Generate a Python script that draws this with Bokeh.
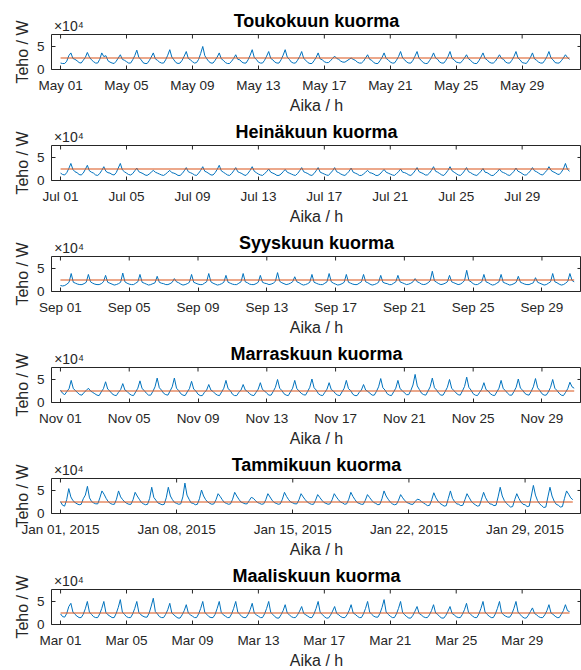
import numpy as np
from bokeh.plotting import figure
from bokeh.layouts import column
from bokeh.models import FixedTicker, LinearAxis, Range1d
from bokeh.embed import file_html
from bokeh.resources import INLINE

# ---------------- data (load in kW, one value every 3 hours) ----------------
SAMPLE_HOURS = 3
REFERENCE_LEVEL_KW = 25

may_kw = [
    14, 13, 13, 18, 30, 36, 24, 22,  19, 15, 14, 20, 26, 37, 27, 21,
    17, 14, 14, 22, 36, 28, 30, 19,  16, 14, 13, 18, 25, 32, 22, 20,
    17, 14, 14, 21, 30, 42, 26, 22,  15, 13, 13, 19, 27, 36, 23, 20,
    16, 14, 14, 21, 31, 43, 27, 21,  15, 13, 14, 20, 29, 39, 24, 21,
    17, 14, 15, 22, 35, 50, 30, 23,  17, 14, 14, 20, 27, 36, 23, 20,
    15, 13, 13, 18, 24, 32, 22, 21,  16, 14, 14, 21, 31, 43, 26, 22,
    16, 14, 14, 20, 29, 39, 24, 21,  16, 14, 14, 21, 31, 43, 27, 22,
    16, 14, 14, 20, 28, 39, 24, 20,  15, 13, 13, 19, 26, 36, 23, 21,
    17, 15, 15, 19, 24, 29, 24, 22,  18, 16, 16, 19, 22, 25, 22, 20,
    16, 14, 14, 18, 25, 32, 22, 20,  15, 13, 13, 19, 26, 36, 24, 21,
    16, 14, 14, 20, 28, 39, 25, 21,  16, 14, 14, 20, 29, 39, 24, 20,
    15, 13, 13, 19, 26, 36, 25, 22,  16, 14, 14, 20, 28, 39, 24, 21,
    16, 15, 14, 19, 25, 32, 23, 20,  15, 13, 13, 19, 27, 36, 24, 21,
    16, 14, 14, 18, 25, 32, 24, 22,  16, 14, 14, 20, 28, 39, 25, 21,
    15, 14, 13, 19, 26, 36, 23, 20,  16, 14, 14, 20, 28, 39, 25, 21,
    15, 14, 14, 19, 25, 32, 26, 22,
]

jul_kw = [
    16, 13, 12, 17, 26, 37, 24, 19,  17, 13, 12, 16, 24, 33, 21, 18,
    16, 12, 11, 15, 22, 30, 20, 17,  16, 13, 12, 17, 27, 37, 23, 19,
    16, 13, 12, 15, 21, 27, 19, 17,  15, 12, 11, 14, 18, 22, 18, 16,
    14, 12, 11, 14, 18, 22, 17, 16,  14, 11, 11, 15, 21, 28, 19, 17,
    15, 12, 11, 16, 22, 30, 20, 18,  15, 12, 12, 17, 24, 33, 21, 18,
    15, 12, 11, 15, 21, 28, 19, 17,  15, 12, 11, 16, 22, 30, 20, 17,
    14, 12, 11, 15, 19, 25, 18, 16,  14, 11, 11, 14, 19, 24, 18, 16,
    14, 12, 11, 15, 21, 28, 19, 17,  15, 12, 11, 15, 21, 28, 18, 16,
    14, 12, 11, 16, 21, 28, 19, 17,  14, 12, 11, 15, 20, 27, 18, 16,
    14, 11, 11, 14, 18, 22, 17, 16,  14, 11, 11, 14, 19, 24, 18, 16,
    14, 12, 11, 15, 19, 25, 18, 17,  15, 12, 11, 15, 21, 28, 19, 17,
    15, 12, 12, 16, 22, 30, 20, 18,  15, 12, 11, 16, 22, 30, 21, 18,
    15, 12, 11, 15, 21, 28, 19, 17,  14, 12, 11, 15, 20, 26, 18, 17,
    14, 11, 11, 15, 19, 25, 19, 17,  15, 12, 11, 15, 20, 27, 20, 18,
    15, 12, 12, 16, 21, 28, 21, 19,  16, 13, 12, 17, 22, 30, 22, 19,
    17, 14, 13, 18, 25, 37, 24, 20,
]

sep_kw = [
    13, 12, 13, 16, 20, 39, 20, 18,  16, 15, 15, 17, 20, 37, 21, 18,
    16, 15, 15, 17, 21, 35, 20, 18,  16, 14, 15, 17, 20, 40, 21, 18,
    16, 15, 15, 18, 21, 37, 20, 18,  16, 14, 15, 17, 19, 33, 20, 18,
    17, 15, 15, 17, 20, 28, 21, 19,  16, 14, 15, 17, 20, 37, 20, 18,
    16, 15, 15, 18, 21, 39, 21, 18,  16, 14, 15, 17, 20, 35, 20, 18,
    16, 15, 15, 18, 21, 39, 21, 19,  16, 15, 15, 17, 20, 35, 20, 18,
    17, 15, 16, 18, 22, 41, 22, 19,  17, 15, 16, 18, 21, 32, 21, 19,
    16, 14, 15, 17, 20, 37, 20, 18,  16, 15, 15, 18, 21, 39, 21, 18,
    16, 14, 15, 17, 20, 37, 20, 18,  16, 15, 15, 18, 21, 37, 21, 19,
    16, 14, 15, 17, 20, 35, 20, 18,  17, 15, 15, 18, 21, 35, 21, 19,
    17, 15, 16, 18, 21, 28, 21, 19,  16, 15, 16, 19, 23, 44, 23, 20,
    17, 15, 16, 18, 21, 35, 21, 19,  17, 15, 16, 19, 24, 46, 24, 21,
    17, 15, 15, 18, 21, 37, 21, 19,  16, 14, 15, 18, 21, 37, 20, 18,
    16, 14, 15, 17, 20, 33, 20, 18,  16, 15, 15, 17, 19, 30, 20, 18,
    16, 14, 15, 18, 21, 39, 21, 19,  16, 14, 15, 18, 22, 39, 24, 21,
]

nov_kw = [
    27, 20, 17, 24, 30, 48, 30, 26,  21, 17, 16, 22, 26, 31, 25, 22,
    19, 16, 15, 23, 30, 45, 29, 25,  19, 16, 15, 22, 28, 41, 27, 24,
    19, 16, 15, 23, 31, 47, 30, 26,  20, 16, 16, 24, 34, 53, 32, 27,
    20, 17, 16, 25, 34, 53, 31, 26,  19, 16, 15, 23, 30, 46, 29, 25,
    18, 15, 15, 22, 27, 39, 27, 24,  19, 16, 15, 23, 31, 48, 30, 26,
    18, 15, 15, 22, 27, 39, 27, 24,  19, 16, 15, 22, 29, 43, 28, 25,
    20, 16, 16, 24, 33, 50, 31, 26,  19, 16, 15, 23, 31, 48, 30, 25,
    20, 17, 16, 24, 33, 51, 32, 27,  19, 16, 15, 22, 29, 43, 28, 25,
    19, 16, 15, 23, 31, 48, 30, 26,  18, 15, 15, 22, 27, 39, 27, 24,
    20, 16, 16, 24, 34, 52, 32, 27,  19, 16, 15, 23, 31, 48, 30, 26,
    21, 17, 17, 26, 38, 61, 36, 28,  20, 17, 16, 25, 34, 53, 32, 27,
    20, 16, 16, 24, 33, 50, 31, 26,  21, 17, 16, 25, 35, 55, 33, 27,
    19, 16, 15, 22, 29, 43, 28, 25,  19, 16, 15, 23, 31, 48, 30, 26,
    20, 16, 16, 24, 33, 51, 31, 27,  20, 17, 16, 24, 34, 52, 32, 26,
    19, 16, 16, 23, 33, 50, 31, 26,  20, 16, 15, 22, 30, 44, 34, 31,
]

jan_kw = [
    26, 18, 16, 30, 54, 36, 28, 24,  21, 19, 20, 32, 40, 59, 34, 26,
    23, 21, 21, 34, 49, 42, 33, 26,  22, 20, 20, 31, 49, 36, 30, 25,
    22, 20, 20, 30, 46, 38, 31, 24,  21, 19, 20, 33, 57, 35, 29, 23,
    21, 19, 20, 34, 57, 38, 30, 24,  22, 20, 21, 36, 66, 40, 31, 23,
    22, 19, 20, 32, 51, 38, 30, 25,  22, 20, 21, 30, 43, 37, 30, 24,
    22, 20, 21, 31, 46, 38, 31, 25,  23, 21, 21, 28, 35, 33, 28, 24,
    22, 20, 21, 30, 43, 36, 29, 24,  22, 20, 21, 31, 46, 37, 30, 25,
    23, 21, 21, 30, 43, 36, 30, 25,  22, 20, 20, 29, 41, 35, 29, 24,
    22, 20, 21, 30, 43, 36, 30, 25,  23, 20, 21, 31, 46, 37, 30, 24,
    22, 20, 20, 29, 41, 35, 29, 24,  22, 19, 20, 32, 49, 38, 31, 25,
    21, 19, 20, 29, 41, 34, 28, 24,  22, 20, 20, 26, 31, 30, 26, 23,
    20, 17, 18, 30, 45, 34, 27, 22,  19, 16, 17, 33, 49, 33, 26, 21,
    20, 17, 18, 30, 43, 35, 27, 22,  19, 16, 17, 31, 46, 34, 26, 21,
    20, 17, 18, 36, 57, 38, 28, 22,  18, 14, 15, 30, 43, 33, 25, 20,
    19, 15, 16, 38, 61, 40, 28, 21,  17, 13, 14, 36, 57, 38, 27, 20,
    18, 14, 15, 33, 49, 42, 34, 30,
]

mar_kw = [
    23, 17, 16, 24, 39, 46, 27, 22,  18, 15, 15, 22, 34, 50, 27, 22,
    17, 15, 15, 23, 35, 50, 26, 21,  18, 15, 15, 24, 37, 54, 27, 22,
    17, 15, 15, 23, 35, 50, 26, 21,  18, 16, 16, 25, 40, 57, 28, 23,
    17, 15, 15, 22, 32, 46, 25, 21,  17, 14, 14, 21, 30, 43, 25, 21,
    18, 15, 15, 23, 35, 50, 26, 22,  17, 15, 15, 22, 35, 50, 26, 21,
    18, 15, 15, 23, 35, 50, 27, 22,  17, 15, 15, 22, 32, 46, 25, 21,
    18, 15, 15, 23, 35, 50, 26, 22,  17, 14, 14, 21, 30, 43, 25, 21,
    17, 15, 15, 21, 29, 39, 24, 21,  18, 15, 15, 23, 35, 50, 26, 22,
    17, 14, 14, 20, 29, 39, 24, 21,  17, 15, 15, 21, 30, 43, 25, 22,
    18, 15, 15, 23, 35, 50, 27, 22,  18, 16, 16, 24, 37, 54, 27, 22,
    18, 15, 15, 23, 35, 50, 26, 21,  17, 14, 14, 20, 29, 39, 24, 21,
    17, 15, 15, 21, 30, 43, 25, 22,  17, 14, 14, 20, 29, 39, 24, 21,
    17, 15, 15, 22, 32, 46, 26, 22,  18, 15, 15, 23, 35, 50, 27, 22,
    18, 15, 15, 23, 35, 50, 26, 21,  18, 16, 16, 23, 35, 50, 27, 22,
    17, 14, 14, 20, 28, 36, 24, 21,  17, 15, 15, 21, 30, 43, 25, 22,
    18, 15, 15, 22, 30, 43, 30, 28,
]

titles = ["Toukokuun kuorma", "Heinäkuun kuorma", "Syyskuun kuorma",
          "Marraskuun kuorma", "Tammikuun kuorma", "Maaliskuun kuorma"]

tick_days_4 = [0, 4, 8, 12, 16, 20, 24, 28]
tick_days_7 = [0, 7, 14, 21, 28]
may_ticks = ["May 01", "May 05", "May 09", "May 13", "May 17", "May 21", "May 25", "May 29"]
jul_ticks = ["Jul 01", "Jul 05", "Jul 09", "Jul 13", "Jul 17", "Jul 21", "Jul 25", "Jul 29"]
sep_ticks = ["Sep 01", "Sep 05", "Sep 09", "Sep 13", "Sep 17", "Sep 21", "Sep 25", "Sep 29"]
nov_ticks = ["Nov 01", "Nov 05", "Nov 09", "Nov 13", "Nov 17", "Nov 21", "Nov 25", "Nov 29"]
jan_ticks = ["Jan 01, 2015", "Jan 08, 2015", "Jan 15, 2015", "Jan 22, 2015", "Jan 29, 2015"]
mar_ticks = ["Mar 01", "Mar 05", "Mar 09", "Mar 13", "Mar 17", "Mar 21", "Mar 25", "Mar 29"]

y_ticks_w = [0, 50000]
y_tick_labels = ["0", "5"]
exponent_text = "×10⁴"

panels = [
    (titles[0], may_kw, tick_days_4, may_ticks, (-0.55, 31.6)),
    (titles[1], jul_kw, tick_days_4, jul_ticks, (-0.55, 31.6)),
    (titles[2], sep_kw, tick_days_4, sep_ticks, (-0.52, 30.3)),
    (titles[3], nov_kw, tick_days_4, nov_ticks, (-0.52, 30.3)),
    (titles[4], jan_kw, tick_days_7, jan_ticks, (-0.54, 31.4)),
    (titles[5], mar_kw, tick_days_4, mar_ticks, (-0.55, 31.6)),
]

FONT = "Liberation Sans"
AX = "#262626"
Y_MAX = 76000
TICK_LEN = 4
EXP_POS = 0.5   # x position (days) where the exponent text is centred


def style_axis(ax):
    ax.axis_line_color = None
    ax.major_tick_in = TICK_LEN
    ax.major_tick_out = 0
    ax.minor_tick_in = 0
    ax.minor_tick_out = 0
    ax.major_tick_line_color = AX
    ax.major_tick_line_width = 1
    ax.major_label_text_font = FONT
    ax.major_label_text_color = AX
    ax.major_label_text_font_size = "13.5px"
    ax.axis_label_text_font = FONT
    ax.axis_label_text_color = AX
    ax.axis_label_text_font_style = "normal"
    ax.axis_label_text_font_size = "16px"


figs = []
n = len(panels)
for k, (title, vals, tdays, tlabels, xr) in enumerate(panels):
    top = 34 if k == 0 else 29
    bottom = 46 if k == n - 1 else 47
    p = figure(frame_width=530, frame_height=35, output_backend="svg", toolbar_location=None,
               x_range=Range1d(*xr), y_range=Range1d(0, Y_MAX), title=None,
               min_border_left=51, min_border_right=0,
               min_border_top=top, min_border_bottom=bottom,
               x_axis_label="Aika / h", y_axis_label="Teho / W")
    p.background_fill_color = "white"
    p.border_fill_color = "white"
    p.outline_line_color = AX
    p.outline_line_width = 1
    p.grid.visible = False

    xa = p.xaxis[0]
    xa.ticker = FixedTicker(ticks=tdays)
    xa.major_label_overrides = {d: lab for d, lab in zip(tdays, tlabels)}
    style_axis(xa)
    xa.major_label_standoff = 8
    xa.axis_label_standoff = 1

    ya = p.yaxis[0]
    ya.ticker = FixedTicker(ticks=y_ticks_w)
    ya.major_label_overrides = {v: lab for v, lab in zip(y_ticks_w, y_tick_labels)}
    style_axis(ya)
    ya.major_label_standoff = 7
    ya.axis_label_standoff = 3

    # top axis: carries the "x10^4" exponent as tick label and the panel title as its label
    ta = LinearAxis(ticker=FixedTicker(ticks=[EXP_POS]),
                    major_label_overrides={EXP_POS: exponent_text},
                    axis_label=title)
    style_axis(ta)
    ta.major_tick_in = 0
    ta.major_tick_out = 0
    ta.major_label_standoff = 1
    ta.major_label_text_font_size = "14px"
    ta.axis_label_standoff = -16
    ta.axis_label_text_font_size = "18px"
    ta.axis_label_text_font_style = "bold"
    ta.axis_label_text_color = "black"
    p.add_layout(ta, "above")

    # mirrored inward tick marks on the top and right edges of the box
    p.ray(x=tdays, y=[Y_MAX] * len(tdays), length=TICK_LEN, length_units="screen",
          angle=-np.pi / 2, line_color=AX, line_width=1)
    p.ray(x=[xr[1]] * len(y_ticks_w), y=y_ticks_w, length=TICK_LEN, length_units="screen",
          angle=np.pi, line_color=AX, line_width=1)

    x_days = np.arange(len(vals)) * SAMPLE_HOURS / 24.0
    y_w = np.array(vals, dtype=float) * 1000.0
    p.line(x_days, y_w, line_color="#0072BD", line_width=1)
    ref = REFERENCE_LEVEL_KW * 1000.0
    p.line([x_days[0], x_days[-1]], [ref, ref], line_color="#D95319", line_width=1.2)
    figs.append(p)

layout = column(*figs, spacing=0)
open("out.html", "w").write(file_html(layout, INLINE))
